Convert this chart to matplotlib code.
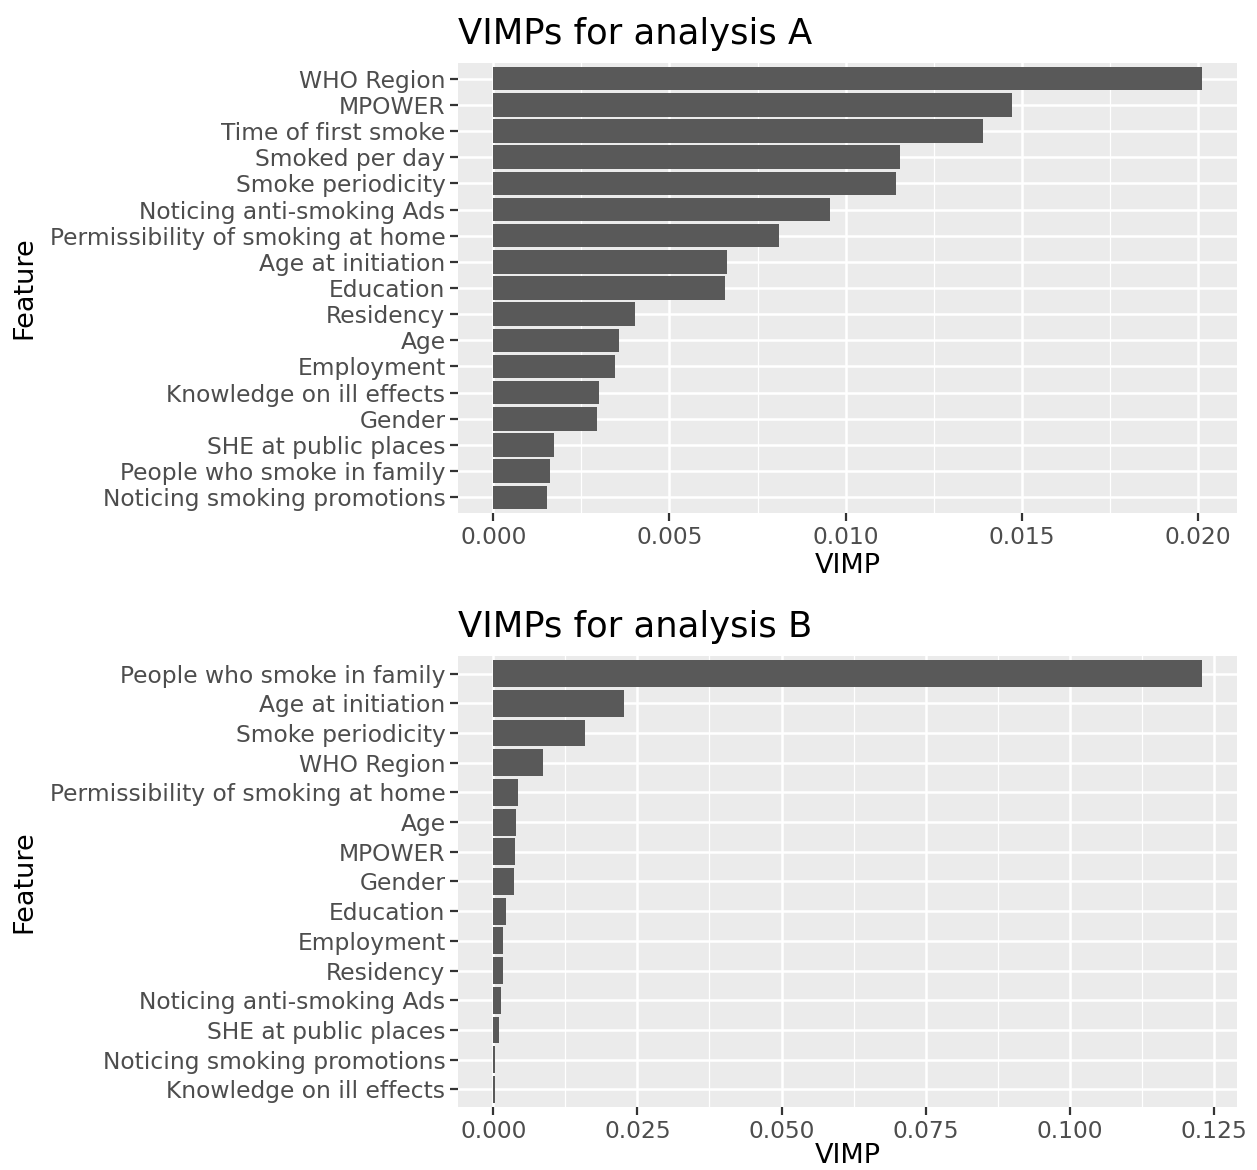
import numpy as np
import matplotlib.pyplot as plt
from matplotlib.ticker import MultipleLocator

# panel A, listed top -> bottom
features_a = ["WHO Region", "MPOWER", "Time of first smoke", "Smoked per day",
              "Smoke periodicity", "Noticing anti-smoking Ads",
              "Permissibility of smoking at home", "Age at initiation", "Education",
              "Residency", "Age", "Employment", "Knowledge on ill effects", "Gender",
              "SHE at public places", "People who smoke in family",
              "Noticing smoking promotions"]
vimp_a = [0.02011, 0.01472, 0.01389, 0.01156, 0.01142, 0.00957, 0.00810, 0.00662,
          0.00659, 0.00401, 0.00358, 0.00344, 0.00301, 0.00295, 0.00173, 0.00162,
          0.00151]

# panel B, listed top -> bottom
features_b = ["People who smoke in family", "Age at initiation", "Smoke periodicity",
              "WHO Region", "Permissibility of smoking at home", "Age", "MPOWER",
              "Gender", "Education", "Employment", "Residency",
              "Noticing anti-smoking Ads", "SHE at public places",
              "Noticing smoking promotions", "Knowledge on ill effects"]
vimp_b = [0.1229, 0.02274, 0.01597, 0.00868, 0.00434, 0.0040, 0.0038, 0.0035,
          0.00226, 0.0017, 0.0016, 0.0014, 0.0009, 0.0003, 0.0002]

W, H = 1257, 1170
fig = plt.figure(figsize=(W / 100, H / 100), dpi=100)


def panel(rect, feats, vals, title, major, minor, fmt):
    ax = fig.add_axes(rect)
    n = len(feats)
    y = np.arange(n)[::-1]
    ax.set_facecolor("#EBEBEB")
    ax.barh(y, vals, height=0.9, color="#595959", zorder=3)
    vmax = max(vals)
    ax.set_xlim(-0.05 * vmax, 1.05 * vmax)
    ax.set_ylim(-0.6, n - 0.4)
    ax.set_yticks(y)
    ax.set_yticklabels(feats)
    ax.xaxis.set_major_locator(MultipleLocator(major))
    ax.xaxis.set_minor_locator(MultipleLocator(minor))
    ax.xaxis.set_major_formatter(plt.FuncFormatter(lambda v, p: fmt % v))
    ax.grid(True, which="major", color="white", linewidth=1.8, zorder=1)
    ax.grid(True, which="minor", axis="x", color="white", linewidth=0.9, zorder=1)
    for s in ax.spines.values():
        s.set_visible(False)
    ax.tick_params(axis="both", which="major", length=5.5, width=1.6, color="#333333",
                   labelcolor="#4D4D4D", labelsize=16.8, pad=3.5)
    ax.tick_params(axis="x", which="minor", length=0)
    ax.set_axisbelow(True)
    ax.set_xlabel("VIMP", fontsize=19.5, labelpad=3)
    ax.set_ylabel("Feature", fontsize=19.5)
    ax.set_title(title, fontsize=25.5, loc="left", pad=14)
    return ax


ax1 = panel([458 / W, 1 - 513 / H, 779 / W, 450 / H], features_a, vimp_a,
            "VIMPs for analysis A", 0.005, 0.0025, "%.3f")
ax2 = panel([458 / W, 1 - 1107 / H, 779 / W, 451 / H], features_b, vimp_b,
            "VIMPs for analysis B", 0.025, 0.0125, "%.3f")
ax1.yaxis.set_label_coords(-0.54, 0.5)
ax2.yaxis.set_label_coords(-0.54, 0.5)
ax2.xaxis.labelpad = 0.5

fig.savefig("out.png", dpi=100)
